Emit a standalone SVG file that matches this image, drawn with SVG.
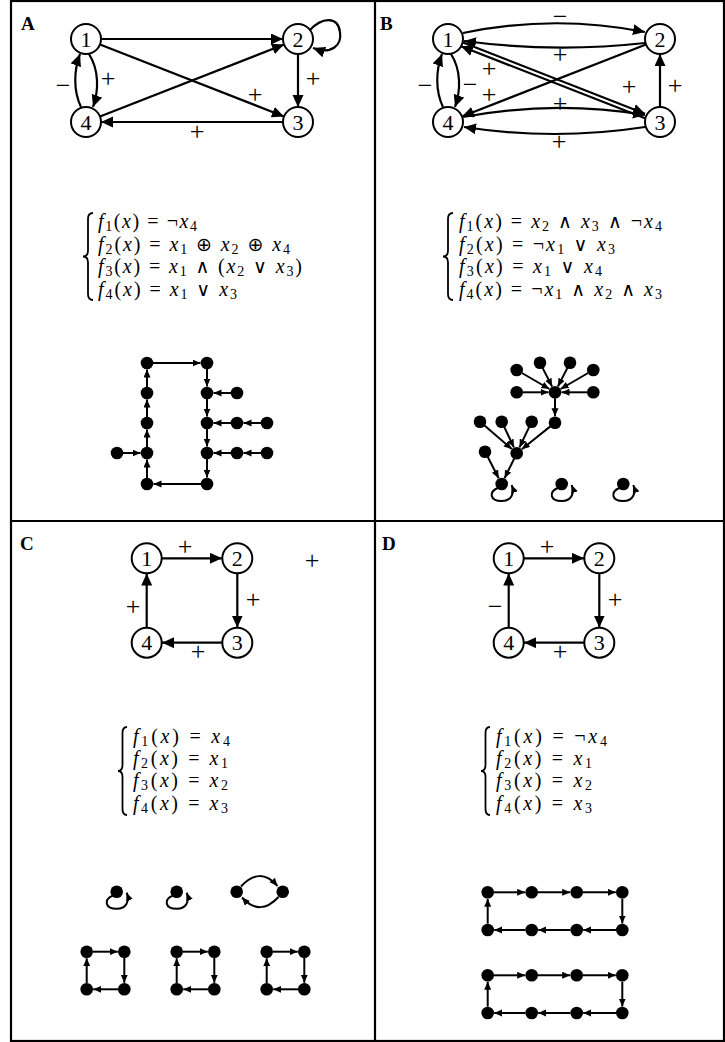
<svg xmlns="http://www.w3.org/2000/svg" width="725" height="1042" viewBox="0 0 725 1042">
<style>
.frame{fill:none;stroke:#000;stroke-width:2.2}
.nd{fill:#fff;stroke:#000;stroke-width:2}
.nl{font-family:"Liberation Serif","DejaVu Serif",serif;font-size:22px;text-anchor:middle;fill:#000}
.el{font-family:"Liberation Serif","DejaVu Serif",serif;font-size:26px;text-anchor:middle;fill:#000}
.pl{font-family:"Liberation Serif","DejaVu Serif",serif;font-size:19px;font-weight:bold;fill:#000}
.e{fill:none;stroke:#000;stroke-width:2.2;marker-end:url(#big)}
.s{fill:none;stroke:#000;stroke-width:2;marker-end:url(#sm)}
.dot{fill:#000}
.br{fill:none;stroke:#000;stroke-width:1.8}
.fm{font-family:"Liberation Serif","DejaVu Serif",serif;font-size:20px;fill:#000}
.it{font-style:italic}
.sb{font-size:14px}
.op{font-family:"DejaVu Sans",sans-serif;font-size:19px}
</style>
<defs>
<marker id="big" markerUnits="userSpaceOnUse" markerWidth="13" markerHeight="12" refX="12" refY="5.5" orient="auto"><path d="M0,0 L12,5.5 L0,11 z" fill="#000"/></marker>
<marker id="sm" markerUnits="userSpaceOnUse" markerWidth="9" markerHeight="8" refX="8" refY="3.5" orient="auto"><path d="M0,0 L8,3.5 L0,7 z" fill="#000"/></marker>
</defs>
<rect width="725" height="1042" fill="#fff"/>
<g id="frame">
<rect class="frame" x="11" y="1" width="713" height="1040"/>
<line class="frame" x1="375" y1="1" x2="375" y2="1041"/>
<line class="frame" x1="11" y1="521" x2="724" y2="521"/>
</g>
<text class="pl" x="21" y="30">A</text>
<text class="pl" x="380" y="30">B</text>
<text class="pl" x="20" y="550">C</text>
<text class="pl" x="382" y="550">D</text>

<!-- Panel A interaction graph -->
<g id="A-edges">
<line class="e" x1="101" y1="39" x2="283" y2="39"/>
<line class="e" x1="100" y1="44.5" x2="284" y2="116.5"/>
<line class="e" x1="100" y1="116.5" x2="284" y2="44.5"/>
<line class="e" x1="298" y1="54" x2="298" y2="107"/>
<line class="e" x1="283" y1="122" x2="101" y2="122"/>
<path class="e" d="M 310 30 C 322 17, 338 16, 340 32 C 342 45, 332 55, 313 48"/>
<path class="e" d="M 89 54 C 99 70, 99 90, 93 107"/>
<path class="e" d="M 81 107 C 73 90, 74 70, 80 54"/>
<text class="el" x="108" y="86.5">+</text>
<text class="el" x="63" y="93.5">−</text>
<text class="el" x="313" y="86.5">+</text>
<text class="el" x="255" y="103">+</text>
<text class="el" x="197" y="140">+</text>
</g>
<g id="A-n1"><circle class="nd" cx="86" cy="39" r="15"/><text class="nl" x="86" y="46.5">1</text></g>
<g id="A-n2"><circle class="nd" cx="298" cy="39" r="15"/><text class="nl" x="298" y="46.5">2</text></g>
<g id="A-n3"><circle class="nd" cx="298" cy="122" r="15"/><text class="nl" x="298" y="129.5">3</text></g>
<g id="A-n4"><circle class="nd" cx="86" cy="122" r="15"/><text class="nl" x="86" y="129.5">4</text></g>

<!-- Panel B interaction graph -->
<g id="B-edges">
<path class="e" d="M 463 33 Q 554 14, 645 32"/>
<path class="e" d="M 645 43 Q 554 53, 464 41"/>
<line class="e" x1="646" y1="44.5" x2="462" y2="116.5"/>
<line class="e" x1="461" y1="41.7" x2="645" y2="113.7"/>
<line class="e" x1="645" y1="118.3" x2="461" y2="46.3"/>
<line class="e" x1="660" y1="107" x2="660" y2="54"/>
<path class="e" d="M 463 117 Q 554 100, 645 115"/>
<path class="e" d="M 645 127 Q 554 141, 464 127"/>
<path class="e" d="M 451 54 C 461 70, 461 90, 455 107"/>
<path class="e" d="M 443 107 C 435 90, 436 70, 442 54"/>
<text class="el" x="560" y="24.5">−</text>
<text class="el" x="560" y="63">+</text>
<text class="el" x="489" y="76.5">+</text>
<text class="el" x="489" y="103">+</text>
<text class="el" x="629" y="94.5">+</text>
<text class="el" x="675" y="93.5">+</text>
<text class="el" x="560" y="111.5">+</text>
<text class="el" x="559" y="149.5">+</text>
<text class="el" x="470" y="92.5">−</text>
<text class="el" x="425" y="93.5">−</text>
</g>
<g id="B-n1"><circle class="nd" cx="448" cy="39" r="15"/><text class="nl" x="448" y="46.5">1</text></g>
<g id="B-n2"><circle class="nd" cx="660" cy="39" r="15"/><text class="nl" x="660" y="46.5">2</text></g>
<g id="B-n3"><circle class="nd" cx="660" cy="122" r="15"/><text class="nl" x="660" y="129.5">3</text></g>
<g id="B-n4"><circle class="nd" cx="448" cy="122" r="15"/><text class="nl" x="448" y="129.5">4</text></g>

<!-- Panel C interaction graph -->
<g id="C-edges">
<line class="e" x1="162" y1="558.3" x2="222" y2="558.3"/>
<line class="e" x1="237.3" y1="573.5" x2="237.3" y2="627.5"/>
<line class="e" x1="222" y1="642.7" x2="162" y2="642.7"/>
<line class="e" x1="146.7" y1="627.5" x2="146.7" y2="573.5"/>
<text class="el" x="185" y="554.5">+</text>
<text class="el" x="253" y="607.5">+</text>
<text class="el" x="198" y="659.5">+</text>
<text class="el" x="133" y="614.5">+</text>
<text class="el" x="312" y="568.5">+</text>
</g>
<g id="C-n1"><circle class="nd" cx="146.7" cy="558.3" r="15"/><text class="nl" x="146.7" y="565.8">1</text></g>
<g id="C-n2"><circle class="nd" cx="237.3" cy="558.3" r="15"/><text class="nl" x="237.3" y="565.8">2</text></g>
<g id="C-n3"><circle class="nd" cx="237.3" cy="642.7" r="15"/><text class="nl" x="237.3" y="650.2">3</text></g>
<g id="C-n4"><circle class="nd" cx="146.7" cy="642.7" r="15"/><text class="nl" x="146.7" y="650.2">4</text></g>

<!-- Panel D interaction graph -->
<g id="D-edges">
<line class="e" x1="524" y1="558.3" x2="584" y2="558.3"/>
<line class="e" x1="599.3" y1="573.5" x2="599.3" y2="627.5"/>
<line class="e" x1="584" y1="642.7" x2="524" y2="642.7"/>
<line class="e" x1="508.7" y1="627.5" x2="508.7" y2="573.5"/>
<text class="el" x="547" y="554.5">+</text>
<text class="el" x="615" y="607.5">+</text>
<text class="el" x="560" y="659.5">+</text>
<text class="el" x="495" y="614.5">−</text>
</g>
<g id="D-n1"><circle class="nd" cx="508.7" cy="558.3" r="15"/><text class="nl" x="508.7" y="565.8">1</text></g>
<g id="D-n2"><circle class="nd" cx="599.3" cy="558.3" r="15"/><text class="nl" x="599.3" y="565.8">2</text></g>
<g id="D-n3"><circle class="nd" cx="599.3" cy="642.7" r="15"/><text class="nl" x="599.3" y="650.2">3</text></g>
<g id="D-n4"><circle class="nd" cx="508.7" cy="642.7" r="15"/><text class="nl" x="508.7" y="650.2">4</text></g>

<!-- Formulas -->
<g id="A-formula">
<path class="br" d="M 93 213 Q 88 213 88 219 L 88 250.5 Q 88 256.5 83 256.5 Q 88 256.5 88 262.5 L 88 294 Q 88 300 93 300"/>
<text class="fm" x="98" y="228" textLength="99" lengthAdjust="spacing"><tspan class="it">f</tspan><tspan class="sb" dy="3">1</tspan><tspan dy="-3">(</tspan><tspan class="it">x</tspan><tspan>) = ¬</tspan><tspan class="it">x</tspan><tspan class="sb" dy="3">4</tspan></text>
<text class="fm" x="98" y="251" textLength="192" lengthAdjust="spacing"><tspan class="it">f</tspan><tspan class="sb" dy="3">2</tspan><tspan dy="-3">(</tspan><tspan class="it">x</tspan><tspan>) = </tspan><tspan class="it">x</tspan><tspan class="sb" dy="3">1</tspan><tspan dy="-3"> </tspan><tspan class="op">⊕</tspan><tspan> </tspan><tspan class="it">x</tspan><tspan class="sb" dy="3">2</tspan><tspan dy="-3"> </tspan><tspan class="op">⊕</tspan><tspan> </tspan><tspan class="it">x</tspan><tspan class="sb" dy="3">4</tspan></text>
<text class="fm" x="98" y="273" textLength="204" lengthAdjust="spacing"><tspan class="it">f</tspan><tspan class="sb" dy="3">3</tspan><tspan dy="-3">(</tspan><tspan class="it">x</tspan><tspan>) = </tspan><tspan class="it">x</tspan><tspan class="sb" dy="3">1</tspan><tspan dy="-3"> </tspan><tspan class="op">∧</tspan><tspan> (</tspan><tspan class="it">x</tspan><tspan class="sb" dy="3">2</tspan><tspan dy="-3"> </tspan><tspan class="op">∨</tspan><tspan> </tspan><tspan class="it">x</tspan><tspan class="sb" dy="3">3</tspan><tspan dy="-3">)</tspan></text>
<text class="fm" x="98" y="296" textLength="139" lengthAdjust="spacing"><tspan class="it">f</tspan><tspan class="sb" dy="3">4</tspan><tspan dy="-3">(</tspan><tspan class="it">x</tspan><tspan>) = </tspan><tspan class="it">x</tspan><tspan class="sb" dy="3">1</tspan><tspan dy="-3"> </tspan><tspan class="op">∨</tspan><tspan> </tspan><tspan class="it">x</tspan><tspan class="sb" dy="3">3</tspan></text>
</g>
<g id="B-formula">
<path class="br" d="M 453 213 Q 448 213 448 219 L 448 250.5 Q 448 256.5 443 256.5 Q 448 256.5 448 262.5 L 448 294 Q 448 300 453 300"/>
<text class="fm" x="459" y="228" textLength="203" lengthAdjust="spacing"><tspan class="it">f</tspan><tspan class="sb" dy="3">1</tspan><tspan dy="-3">(</tspan><tspan class="it">x</tspan><tspan>) = </tspan><tspan class="it">x</tspan><tspan class="sb" dy="3">2</tspan><tspan dy="-3"> </tspan><tspan class="op">∧</tspan><tspan> </tspan><tspan class="it">x</tspan><tspan class="sb" dy="3">3</tspan><tspan dy="-3"> </tspan><tspan class="op">∧</tspan><tspan> ¬</tspan><tspan class="it">x</tspan><tspan class="sb" dy="3">4</tspan></text>
<text class="fm" x="459" y="251" textLength="156" lengthAdjust="spacing"><tspan class="it">f</tspan><tspan class="sb" dy="3">2</tspan><tspan dy="-3">(</tspan><tspan class="it">x</tspan><tspan>) = ¬</tspan><tspan class="it">x</tspan><tspan class="sb" dy="3">1</tspan><tspan dy="-3"> </tspan><tspan class="op">∨</tspan><tspan> </tspan><tspan class="it">x</tspan><tspan class="sb" dy="3">3</tspan></text>
<text class="fm" x="459" y="273" textLength="143" lengthAdjust="spacing"><tspan class="it">f</tspan><tspan class="sb" dy="3">3</tspan><tspan dy="-3">(</tspan><tspan class="it">x</tspan><tspan>) = </tspan><tspan class="it">x</tspan><tspan class="sb" dy="3">1</tspan><tspan dy="-3"> </tspan><tspan class="op">∨</tspan><tspan> </tspan><tspan class="it">x</tspan><tspan class="sb" dy="3">4</tspan></text>
<text class="fm" x="459" y="296" textLength="203" lengthAdjust="spacing"><tspan class="it">f</tspan><tspan class="sb" dy="3">4</tspan><tspan dy="-3">(</tspan><tspan class="it">x</tspan><tspan>) = ¬</tspan><tspan class="it">x</tspan><tspan class="sb" dy="3">1</tspan><tspan dy="-3"> </tspan><tspan class="op">∧</tspan><tspan> </tspan><tspan class="it">x</tspan><tspan class="sb" dy="3">2</tspan><tspan dy="-3"> </tspan><tspan class="op">∧</tspan><tspan> </tspan><tspan class="it">x</tspan><tspan class="sb" dy="3">3</tspan></text>
</g>
<g id="C-formula">
<path class="br" d="M 127 727 Q 122.5 727 122.5 733 L 122.5 765 Q 122.5 771 118 771 Q 122.5 771 122.5 777 L 122.5 809 Q 122.5 815 127 815"/>
<text class="fm" x="133" y="743" textLength="97" lengthAdjust="spacing"><tspan class="it">f</tspan><tspan class="sb" dy="3">1</tspan><tspan dy="-3">(</tspan><tspan class="it">x</tspan><tspan>) = </tspan><tspan class="it">x</tspan><tspan class="sb" dy="3">4</tspan></text>
<text class="fm" x="133" y="765" textLength="95" lengthAdjust="spacing"><tspan class="it">f</tspan><tspan class="sb" dy="3">2</tspan><tspan dy="-3">(</tspan><tspan class="it">x</tspan><tspan>) = </tspan><tspan class="it">x</tspan><tspan class="sb" dy="3">1</tspan></text>
<text class="fm" x="133" y="787" textLength="95" lengthAdjust="spacing"><tspan class="it">f</tspan><tspan class="sb" dy="3">3</tspan><tspan dy="-3">(</tspan><tspan class="it">x</tspan><tspan>) = </tspan><tspan class="it">x</tspan><tspan class="sb" dy="3">2</tspan></text>
<text class="fm" x="133" y="810" textLength="95" lengthAdjust="spacing"><tspan class="it">f</tspan><tspan class="sb" dy="3">4</tspan><tspan dy="-3">(</tspan><tspan class="it">x</tspan><tspan>) = </tspan><tspan class="it">x</tspan><tspan class="sb" dy="3">3</tspan></text>
</g>
<g id="D-formula">
<path class="br" d="M 490 727 Q 485.5 727 485.5 733 L 485.5 765 Q 485.5 771 481 771 Q 485.5 771 485.5 777 L 485.5 809 Q 485.5 815 490 815"/>
<text class="fm" x="496" y="743" textLength="111" lengthAdjust="spacing"><tspan class="it">f</tspan><tspan class="sb" dy="3">1</tspan><tspan dy="-3">(</tspan><tspan class="it">x</tspan><tspan>) = ¬</tspan><tspan class="it">x</tspan><tspan class="sb" dy="3">4</tspan></text>
<text class="fm" x="496" y="765" textLength="96" lengthAdjust="spacing"><tspan class="it">f</tspan><tspan class="sb" dy="3">2</tspan><tspan dy="-3">(</tspan><tspan class="it">x</tspan><tspan>) = </tspan><tspan class="it">x</tspan><tspan class="sb" dy="3">1</tspan></text>
<text class="fm" x="496" y="787" textLength="96" lengthAdjust="spacing"><tspan class="it">f</tspan><tspan class="sb" dy="3">3</tspan><tspan dy="-3">(</tspan><tspan class="it">x</tspan><tspan>) = </tspan><tspan class="it">x</tspan><tspan class="sb" dy="3">2</tspan></text>
<text class="fm" x="496" y="810" textLength="96" lengthAdjust="spacing"><tspan class="it">f</tspan><tspan class="sb" dy="3">4</tspan><tspan dy="-3">(</tspan><tspan class="it">x</tspan><tspan>) = </tspan><tspan class="it">x</tspan><tspan class="sb" dy="3">3</tspan></text>
</g>

<!-- Panel A state transition graph -->
<g id="A-stg-edges">
<line class="s" x1="153" y1="363" x2="200.5" y2="363"/>
<line class="s" x1="207" y1="369" x2="207" y2="386.5"/>
<line class="s" x1="231" y1="393" x2="213.5" y2="393"/>
<line class="s" x1="207" y1="399" x2="207" y2="416.5"/>
<line class="s" x1="231" y1="423" x2="213.5" y2="423"/>
<line class="s" x1="261" y1="423" x2="243.5" y2="423"/>
<line class="s" x1="207" y1="429" x2="207" y2="446.5"/>
<line class="s" x1="231" y1="453" x2="213.5" y2="453"/>
<line class="s" x1="261" y1="453" x2="243.5" y2="453"/>
<line class="s" x1="207" y1="459" x2="207" y2="477.5"/>
<line class="s" x1="201" y1="484" x2="153.5" y2="484"/>
<line class="s" x1="147" y1="478" x2="147" y2="459.5"/>
<line class="s" x1="123" y1="453" x2="140.5" y2="453"/>
<line class="s" x1="147" y1="447" x2="147" y2="429.5"/>
<line class="s" x1="147" y1="417" x2="147" y2="399.5"/>
<line class="s" x1="147" y1="387" x2="147" y2="369.5"/>
</g>
<g id="A-stg-nodes" class="dot">
<circle cx="147" cy="363" r="6.3"/><circle cx="207" cy="363" r="6.3"/>
<circle cx="147" cy="393" r="6.3"/><circle cx="207" cy="393" r="6.3"/><circle cx="237" cy="393" r="6.3"/>
<circle cx="147" cy="423" r="6.3"/><circle cx="207" cy="423" r="6.3"/><circle cx="237" cy="423" r="6.3"/><circle cx="267" cy="423" r="6.3"/>
<circle cx="117" cy="453" r="6.3"/><circle cx="147" cy="453" r="6.3"/><circle cx="207" cy="453" r="6.3"/><circle cx="237" cy="453" r="6.3"/><circle cx="267" cy="453" r="6.3"/>
<circle cx="147" cy="484" r="6.3"/><circle cx="207" cy="484" r="6.3"/>
</g>

<!-- Panel B state transition graph -->
<g id="B-stg-edges">
<line class="s" x1="521.9" y1="373" x2="549.4" y2="389"/>
<line class="s" x1="542.7" y1="368.1" x2="552.1" y2="386.5"/>
<line class="s" x1="567.3" y1="368.1" x2="557.9" y2="386.5"/>
<line class="s" x1="588.1" y1="373" x2="560.6" y2="389"/>
<line class="s" x1="522.7" y1="392.3" x2="548.5" y2="392.3"/>
<line class="s" x1="587.3" y1="392.3" x2="561.5" y2="392.3"/>
<line class="s" x1="555" y1="398.3" x2="555" y2="416.2"/>
<line class="s" x1="550.3" y1="426.4" x2="521.8" y2="449.2"/>
<line class="s" x1="484.5" y1="425.6" x2="511.8" y2="449.1"/>
<line class="s" x1="504.3" y1="427.1" x2="513.9" y2="447.4"/>
<line class="s" x1="529.1" y1="427.1" x2="519.5" y2="447.4"/>
<line class="s" x1="487.8" y1="457" x2="498.7" y2="478.2"/>
<line class="s" x1="514.1" y1="458.7" x2="504.6" y2="478.2"/>
<path class="s" transform="translate(501.7,484)" d="M -4,4 C -13,8 -12,17 0,17 C 10,17 13,9 10,1"/>
<path class="s" transform="translate(561.7,484)" d="M -4,4 C -13,8 -12,17 0,17 C 10,17 13,9 10,1"/>
<path class="s" transform="translate(623.3,484)" d="M -4,4 C -13,8 -12,17 0,17 C 10,17 13,9 10,1"/>
</g>
<g id="B-stg-nodes" class="dot">
<circle cx="555" cy="392.3" r="6.3"/>
<circle cx="516.7" cy="370" r="6.3"/><circle cx="540" cy="362.7" r="6.3"/><circle cx="570" cy="362.7" r="6.3"/><circle cx="593.3" cy="370" r="6.3"/>
<circle cx="516.7" cy="392.3" r="6.3"/><circle cx="593.3" cy="392.3" r="6.3"/>
<circle cx="555" cy="422.7" r="6.3"/>
<circle cx="480" cy="421.7" r="6.3"/><circle cx="501.7" cy="421.7" r="6.3"/><circle cx="531.7" cy="421.7" r="6.3"/>
<circle cx="516.7" cy="453.3" r="6.3"/><circle cx="485" cy="451.7" r="6.3"/>
<circle cx="501.7" cy="484" r="6.3"/><circle cx="561.7" cy="484" r="6.3"/><circle cx="623.3" cy="484" r="6.3"/>
</g>

<!-- Panel C state transition graph -->
<g id="C-stg-fixed">
<path class="s" transform="translate(116.7,891.7)" d="M -4,4 C -13,8 -12,17 0,17 C 10,17 13,9 10,1"/>
<path class="s" transform="translate(176.7,891.7)" d="M -4,4 C -13,8 -12,17 0,17 C 10,17 13,9 10,1"/>
<circle class="dot" cx="116.7" cy="891.7" r="6.3"/>
<circle class="dot" cx="176.7" cy="891.7" r="6.3"/>
</g>
<g id="C-stg-2cycle">
<path class="s" d="M 241 886.5 Q 260 866, 277.5 886"/>
<path class="s" d="M 278.5 897 Q 260 917, 242 897.5"/>
<circle class="dot" cx="236.7" cy="891.7" r="6.3"/>
<circle class="dot" cx="282.7" cy="891.7" r="6.3"/>
</g>
<g id="C-stg-4cycle-1">
<line class="s" x1="93" y1="951.7" x2="117.8" y2="951.7"/>
<line class="s" x1="124.3" y1="958" x2="124.3" y2="982.8"/>
<line class="s" x1="118" y1="989.3" x2="93.2" y2="989.3"/>
<line class="s" x1="86.7" y1="983" x2="86.7" y2="958.2"/>
<circle class="dot" cx="86.7" cy="951.7" r="6.3"/><circle class="dot" cx="124.3" cy="951.7" r="6.3"/>
<circle class="dot" cx="124.3" cy="989.3" r="6.3"/><circle class="dot" cx="86.7" cy="989.3" r="6.3"/>
</g>
<g id="C-stg-4cycle-2" transform="translate(90,0)">
<line class="s" x1="93" y1="951.7" x2="117.8" y2="951.7"/>
<line class="s" x1="124.3" y1="958" x2="124.3" y2="982.8"/>
<line class="s" x1="118" y1="989.3" x2="93.2" y2="989.3"/>
<line class="s" x1="86.7" y1="983" x2="86.7" y2="958.2"/>
<circle class="dot" cx="86.7" cy="951.7" r="6.3"/><circle class="dot" cx="124.3" cy="951.7" r="6.3"/>
<circle class="dot" cx="124.3" cy="989.3" r="6.3"/><circle class="dot" cx="86.7" cy="989.3" r="6.3"/>
</g>
<g id="C-stg-4cycle-3" transform="translate(180,0)">
<line class="s" x1="93" y1="951.7" x2="117.8" y2="951.7"/>
<line class="s" x1="124.3" y1="958" x2="124.3" y2="982.8"/>
<line class="s" x1="118" y1="989.3" x2="93.2" y2="989.3"/>
<line class="s" x1="86.7" y1="983" x2="86.7" y2="958.2"/>
<circle class="dot" cx="86.7" cy="951.7" r="6.3"/><circle class="dot" cx="124.3" cy="951.7" r="6.3"/>
<circle class="dot" cx="124.3" cy="989.3" r="6.3"/><circle class="dot" cx="86.7" cy="989.3" r="6.3"/>
</g>

<!-- Panel D state transition graph -->
<g id="D-stg-8cycle-1">
<line class="s" x1="494" y1="892.3" x2="525.2" y2="892.3"/>
<line class="s" x1="538" y1="892.3" x2="570.2" y2="892.3"/>
<line class="s" x1="583" y1="892.3" x2="615.8" y2="892.3"/>
<line class="s" x1="622.3" y1="898.6" x2="622.3" y2="923.5"/>
<line class="s" x1="616" y1="930" x2="583.2" y2="930"/>
<line class="s" x1="570.4" y1="930" x2="538.2" y2="930"/>
<line class="s" x1="525.4" y1="930" x2="494.2" y2="930"/>
<line class="s" x1="487.7" y1="923.7" x2="487.7" y2="898.8"/>
<circle class="dot" cx="487.7" cy="892.3" r="6.3"/><circle class="dot" cx="531.7" cy="892.3" r="6.3"/><circle class="dot" cx="576.7" cy="892.3" r="6.3"/><circle class="dot" cx="622.3" cy="892.3" r="6.3"/>
<circle class="dot" cx="487.7" cy="930" r="6.3"/><circle class="dot" cx="531.7" cy="930" r="6.3"/><circle class="dot" cx="576.7" cy="930" r="6.3"/><circle class="dot" cx="622.3" cy="930" r="6.3"/>
</g>
<g id="D-stg-8cycle-2" transform="translate(0,83)">
<line class="s" x1="494" y1="892.3" x2="525.2" y2="892.3"/>
<line class="s" x1="538" y1="892.3" x2="570.2" y2="892.3"/>
<line class="s" x1="583" y1="892.3" x2="615.8" y2="892.3"/>
<line class="s" x1="622.3" y1="898.6" x2="622.3" y2="923.5"/>
<line class="s" x1="616" y1="930" x2="583.2" y2="930"/>
<line class="s" x1="570.4" y1="930" x2="538.2" y2="930"/>
<line class="s" x1="525.4" y1="930" x2="494.2" y2="930"/>
<line class="s" x1="487.7" y1="923.7" x2="487.7" y2="898.8"/>
<circle class="dot" cx="487.7" cy="892.3" r="6.3"/><circle class="dot" cx="531.7" cy="892.3" r="6.3"/><circle class="dot" cx="576.7" cy="892.3" r="6.3"/><circle class="dot" cx="622.3" cy="892.3" r="6.3"/>
<circle class="dot" cx="487.7" cy="930" r="6.3"/><circle class="dot" cx="531.7" cy="930" r="6.3"/><circle class="dot" cx="576.7" cy="930" r="6.3"/><circle class="dot" cx="622.3" cy="930" r="6.3"/>
</g>
</svg>
